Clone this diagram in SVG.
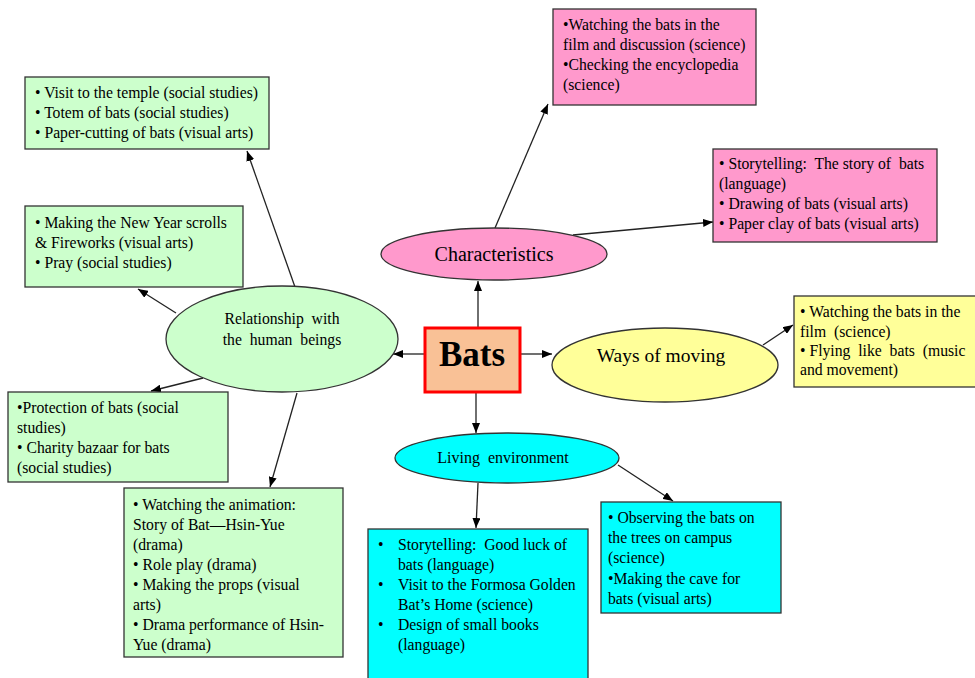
<svg xmlns="http://www.w3.org/2000/svg" width="975" height="678" viewBox="0 0 975 678">
<defs>
<marker id="ah" markerWidth="10" markerHeight="8" refX="10" refY="4" orient="auto" markerUnits="userSpaceOnUse">
<path d="M0,0 L10,4 L0,8 z" fill="#000"/>
</marker>
<style>
text{font-family:"Liberation Serif","Times New Roman",serif;fill:#000;}
.t{font-size:15.7px;}
.box{stroke:#333;stroke-width:1.3;}
.green{fill:#CCFFCC;}
.pink{fill:#FF99CC;}
.yellow{fill:#FFFF99;}
.cyan{fill:#00FFFF;}
.ell{stroke:#333;stroke-width:1.3;}
.con line{stroke:#222;stroke-width:1.3;fill:none;marker-end:url(#ah);}
</style>
</defs>
<rect width="975" height="678" fill="#fff"/>

<g id="connectors" class="con">
<line x1="478" y1="327" x2="478" y2="281"/>
<line x1="424" y1="354" x2="393" y2="354"/>
<line x1="520" y1="354" x2="552" y2="354"/>
<line x1="476" y1="392" x2="476" y2="433"/>
<line x1="495" y1="228" x2="548" y2="104"/>
<line x1="573" y1="235" x2="713" y2="222"/>
<line x1="763" y1="345" x2="793" y2="325"/>
<line x1="478" y1="483" x2="476" y2="528"/>
<line x1="618" y1="465" x2="673" y2="501"/>
<line x1="295" y1="287" x2="247" y2="151"/>
<line x1="176" y1="313" x2="138" y2="289"/>
<line x1="203" y1="378" x2="151" y2="391"/>
<line x1="297" y1="393" x2="270" y2="487"/>
</g>

<g id="bats">
<rect x="425" y="328" width="95" height="64" fill="#F9C196" stroke="#FF0000" stroke-width="3"/>
<text x="472" y="366" text-anchor="middle" font-size="35" font-weight="bold">Bats</text>
</g>

<g id="characteristics">
<ellipse cx="494" cy="254" rx="113" ry="26" class="ell pink"/>
<text x="494" y="261" text-anchor="middle" font-size="20">Characteristics</text>
</g>

<g id="relationship">
<ellipse cx="282" cy="339" rx="116" ry="53" class="ell green"/>
<text x="282" y="324" text-anchor="middle" class="t" xml:space="preserve">Relationship  with</text>
<text x="282" y="345" text-anchor="middle" class="t" xml:space="preserve">the  human  beings</text>
</g>

<g id="ways">
<ellipse cx="665" cy="365" rx="113" ry="37" class="ell yellow"/>
<text x="661" y="362" text-anchor="middle" font-size="19.5">Ways of moving</text>
</g>

<g id="living">
<ellipse cx="507" cy="458" rx="112" ry="25" class="ell cyan"/>
<text x="503" y="463" text-anchor="middle" font-size="16" xml:space="preserve">Living  environment</text>
</g>

<g id="box-temple">
<rect x="25" y="77" width="244" height="72" class="box green"/>
<text class="t" x="35" y="98">• Visit to the temple (social studies)</text>
<text class="t" x="35" y="118">• Totem of bats (social studies)</text>
<text class="t" x="35" y="138">• Paper-cutting of bats (visual arts)</text>
</g>

<g id="box-newyear">
<rect x="25" y="206" width="218" height="81" class="box green"/>
<text class="t" x="35" y="228">• Making the New Year scrolls</text>
<text class="t" x="35" y="248">&amp; Fireworks (visual arts)</text>
<text class="t" x="35" y="268">• Pray (social studies)</text>
</g>

<g id="box-protection">
<rect x="8" y="392" width="220" height="90" class="box green"/>
<text class="t" x="17" y="413">•Protection of bats (social</text>
<text class="t" x="17" y="433">studies)</text>
<text class="t" x="17" y="453">• Charity bazaar for bats</text>
<text class="t" x="17" y="473">(social studies)</text>
</g>

<g id="box-animation">
<rect x="124" y="488" width="219" height="169" class="box green"/>
<text class="t" x="133" y="510">• Watching the animation:</text>
<text class="t" x="133" y="530">Story of Bat—Hsin-Yue</text>
<text class="t" x="133" y="550">(drama)</text>
<text class="t" x="133" y="570">• Role play (drama)</text>
<text class="t" x="133" y="590">• Making the props (visual</text>
<text class="t" x="133" y="610">arts)</text>
<text class="t" x="133" y="630">• Drama performance of Hsin-</text>
<text class="t" x="133" y="650">Yue (drama)</text>
</g>

<g id="box-film">
<rect x="553" y="9" width="203" height="96" class="box pink"/>
<text class="t" x="563" y="30">•Watching the bats in the</text>
<text class="t" x="563" y="50">film and discussion (science)</text>
<text class="t" x="563" y="70">•Checking the encyclopedia</text>
<text class="t" x="563" y="90">(science)</text>
</g>

<g id="box-story">
<rect x="713" y="149" width="224" height="93" class="box pink"/>
<text class="t" x="719" y="169" xml:space="preserve">• Storytelling:  The story of  bats</text>
<text class="t" x="719" y="189">(language)</text>
<text class="t" x="719" y="209">• Drawing of bats (visual arts)</text>
<text class="t" x="719" y="229">• Paper clay of bats (visual arts)</text>
</g>

<g id="box-moving">
<rect x="794" y="296" width="185" height="91" class="box yellow"/>
<text class="t" x="800" y="317">• Watching the bats in the</text>
<text class="t" x="800" y="337" xml:space="preserve">film  (science)</text>
<text class="t" x="800" y="356" xml:space="preserve">• Flying  like  bats  (music</text>
<text class="t" x="800" y="375">and movement)</text>
</g>

<g id="box-goodluck">
<rect x="368" y="529" width="220" height="155" class="box cyan"/>
<text class="t" x="378" y="550">•</text><text class="t" x="398" y="550" xml:space="preserve">Storytelling:  Good luck of</text>
<text class="t" x="398" y="570">bats (language)</text>
<text class="t" x="378" y="590">•</text><text class="t" x="398" y="590">Visit to the Formosa Golden</text>
<text class="t" x="398" y="610">Bat’s Home (science)</text>
<text class="t" x="378" y="630">•</text><text class="t" x="398" y="630">Design of small books</text>
<text class="t" x="398" y="650">(language)</text>
</g>

<g id="box-observing">
<rect x="601" y="502" width="180" height="111" class="box cyan"/>
<text class="t" x="608" y="523">• Observing the bats on</text>
<text class="t" x="608" y="543">the trees on campus</text>
<text class="t" x="608" y="563">(science)</text>
<text class="t" x="608" y="584">•Making the cave for</text>
<text class="t" x="608" y="604">bats (visual arts)</text>
</g>
</svg>
